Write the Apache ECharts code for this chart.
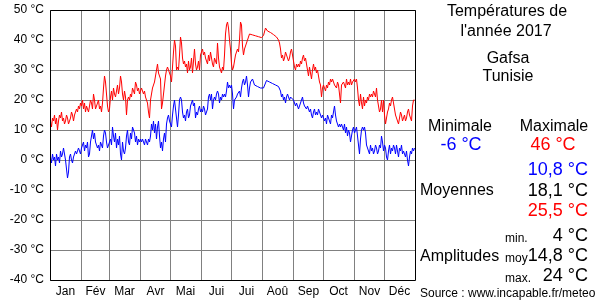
<!DOCTYPE html>
<html>
<head>
<meta charset="utf-8">
<script src="https://cdn.jsdelivr.net/npm/echarts@6/dist/echarts.min.js"></script>
<style>html,body{margin:0;padding:0;background:#fff}#c{width:600px;height:300px}</style>
</head>
<body>
<div id="c"></div>
<script>
const months = ['Jan','Fév','Mar','Avr','Mai','Jui','Jui','Aoû','Sep','Oct','Nov','Déc'];
const monthDays = [31,28,31,30,31,30,31,31,30,31,30,31];
const yTicks = [-40,-30,-20,-10,0,10,20,30,40,50];

const tmax = [
// Jan
13,11,14,13,15,12,14,10,13,15,14,16,13,14,12,13,15,14,12,13,14,16,15,13,15,16,17,16,18,17,19,
// Feb
18,20,17,19,16,18,17,16,18,20,19,17,22,20,17,18,19,20,17,18,16,19,24,28,26,22,18,16,
// Mar
17,21,23,20,24,22,21,23,25,22,24,28,26,22,20,23,21,15,20,21,20,22,21,24,23,22,26,25,23,24,22,
// Apr
23,24,23,22,23,21,20,19,16,14,20,22,24,25,26,28,30,32,29,28,27,17,19,22,25,28,30,31,30,29,
// May
28,26,31,36,40,38,30,31,30,35,41,39,34,32,33,31,32,29,33,30,31,34,29,33,37,32,30,31,33,30,35,
// Jun
36,37,35,36,34,33,32,35,33,36,34,32,31,34,33,32,39,34,31,30,29,31,30,35,42,45,46,44,40,37,
// Jul
32,30,31,33,35,36,37,36,40,46,45,38,35,37,38,39,40,41,42,42,41.8,41.7,41.6,41.5,41.4,41.3,41.2,41.1,41,41,40.8,
// Aug
41,41.5,42,44,43.5,43,43,42.8,42.5,42.3,42,41.8,41.5,41.2,41,40.5,40,39,37,34,35,33,34,36,35,34,33,34,36,37,37,
// Sep
33,31,30,32,31,32,31,33,32,34,35,33,34,32,30,28,31,29,27,30,32,30,31,29,30,28,26,25,21,24,
// Oct
25,24,23,25,24,26,25,27,26,27,26,25,25,24,26,25,25,19,25,25,26,25,24,27,25,26,25,27,25,26,26,
// Nov
27,26,27,24,20,18,22,19,17,21,18,20,19,21,20,22,21,22,21,23,22,21,24,20,18,16,17,20,16,20,
// Dec
15,12,14,16,17,19,18,20,21,19,17,15,14,13,12,14,16,15,13,14,15,13,14,16,17,15,14,13,18,20,20
];

const tmin = [
// Jan
1,-1,2,0,1,-2,2,0,1,-1,3,1,2,4,2,0,-3,-6,-4,1,2,0,-1,1,2,3,2,3,4,3,2,
// Feb
4,5,6,3,5,4,6,1,2,6,8,10,7,9,6,5,4,5,3,6,5,4,8,10,9,6,4,5,
// Mar
6,7,5,11,8,6,9,4,7,5,8,2,0,6,3,2,4,8,10,6,5,9,7,11,10,9,6,8,5,7,6,
// Apr
7,6,7,6,5,7,6,5,7,6,8,12,10,13,9,12,7,11,13,8,4,6,3,7,9,6,12,14,15,13,
// May
12,11,15,18,20,17,14,11,15,20,21,20,16,14,15,13,16,17,14,15,18,19,20,18,19,14,16,15,17,18,16,
// Jun
17,16,18,17,15,16,17,21,22,20,22,17,20,21,20,22,23,22,19,21,20,22,21,22,21,23,26,24,25,24,
// Jul
25,22,17,20,20,21,22,22,23,21,24,26,27,25,26,28,25,21,24,26,26,27,26,25,25,25,24.5,24.5,24,24,24,
// Aug
24,24,24,24,26.5,26.3,26,26,25.8,25.6,25.5,25.3,25,25,24.8,24.6,24.5,24,23,21,22,20,21,19,21,22,21,20,21,21,20.5,
// Sep
20,19,18,19,18,17,18,19,20,21,19,18,18,17,18,17,16,17,15,14,16,17,15,16,15,17,16,15,14,15,
// Oct
15,13,14,12,15,14,13,12,15,14,16,18,15,13,12,11,12,11,12,11,10,12,9,11,8,10,9,6,8,10,11,
// Nov
9,10,11,8,5,2,7,10,11,10,11,9,5,4,3,2,5,3,4,2,3,5,4,2,3,5,4,8,6,3,
// Dec
5,4,1,0,3,5,2,4,3,5,4,2,5,3,1,4,3,5,2,3,2,1,3,0,-2,1,3,2,4,3,4
];

const stats = {
  title1: 'Températures de', title2: "l'année 2017", city: 'Gafsa', country: 'Tunisie',
  minLabel: 'Minimale', maxLabel: 'Maximale', minVal: '-6 °C', maxVal: '46 °C',
  meanMin: '10,8 °C', meanAvg: '18,1 °C', meanMax: '25,5 °C',
  ampMin: '4 °C', ampAvg: '14,8 °C', ampMax: '24 °C',
  source: 'Source : www.incapable.fr/meteo'
};

// build category axis info from months
const days = [];
for (let i = 0; i < tmax.length; i++) days.push(String(i + 1));
const monthStart = {}; const monthMid = {};
let acc = 0;
monthDays.forEach((d, m) => { monthStart[acc] = true; monthMid[acc + Math.floor(d / 2)] = months[m]; acc += d; });

const FONT = 'Liberation Sans, Arial, sans-serif';
function txt(x, y, text, size, color, align) {
  return { type: 'text', x: x, y: y + 2, z: 10,
    style: { text: text, fontSize: size, fontFamily: FONT, fill: color || '#000', textAlign: align || 'center', textVerticalAlign: 'middle' } };
}

const chart = echarts.init(document.getElementById('c'), null, { renderer: 'canvas' });
chart.setOption({
  animation: false,
  backgroundColor: '#fff',
  grid: { left: 50, top: 10, width: 365, height: 270, containLabel: false },
  xAxis: {
    type: 'category', data: days, boundaryGap: true,
    axisLine: { show: false }, axisTick: { show: false },
    splitLine: { show: true, interval: (i) => !!monthStart[i] && i > 0, lineStyle: { color: '#808080', width: 1 } },
    axisLabel: { interval: (i) => monthMid[i] !== undefined, formatter: (v, i) => monthMid[i] || '',
      fontSize: 12, fontFamily: FONT, color: '#000', margin: 6 }
  },
  yAxis: {
    type: 'value', min: yTicks[0], max: yTicks[yTicks.length - 1], interval: 10,
    axisLine: { show: false }, axisTick: { show: false },
    splitLine: { show: true, lineStyle: { color: '#808080', width: 1 } },
    axisLabel: { formatter: '{value} °C', fontSize: 12, fontFamily: FONT, color: '#000', margin: 6, padding: [3, 0, 0, 0] }
  },
  series: [
    { type: 'line', data: tmax, showSymbol: false, symbol: 'none', lineStyle: { color: '#ff0000', width: 1 }, itemStyle: { color: '#ff0000' }, z: 3 },
    { type: 'line', data: tmin, showSymbol: false, symbol: 'none', lineStyle: { color: '#0000ff', width: 1 }, itemStyle: { color: '#0000ff' }, z: 3 }
  ],
  graphic: [
    { type: 'rect', z: 20, shape: { x: 50.5, y: 10.5, width: 365, height: 270 }, style: { fill: 'none', stroke: '#000', lineWidth: 1 } },
    txt(507, 10, stats.title1, 16),
    txt(506, 30, stats.title2, 16),
    txt(508, 57, stats.city, 16),
    txt(508, 75, stats.country, 16),
    txt(460, 125, stats.minLabel, 16),
    txt(554, 125, stats.maxLabel, 16),
    txt(461, 143, stats.minVal, 18, '#0000ff'),
    txt(553, 143, stats.maxVal, 18, '#ff0000'),
    txt(588, 168, stats.meanMin, 18, '#0000ff', 'right'),
    txt(420, 189, 'Moyennes', 16, '#000', 'left'),
    txt(588, 189, stats.meanAvg, 18, '#000', 'right'),
    txt(588, 209, stats.meanMax, 18, '#ff0000', 'right'),
    txt(505, 237, 'min.', 12, '#000', 'left'),
    txt(588, 234, stats.ampMin, 18, '#000', 'right'),
    txt(420, 255, 'Amplitudes', 16, '#000', 'left'),
    txt(505, 257, 'moy', 12, '#000', 'left'),
    txt(588, 254, stats.ampAvg, 18, '#000', 'right'),
    txt(505, 277, 'max.', 12, '#000', 'left'),
    txt(588, 274, stats.ampMax, 18, '#000', 'right'),
    txt(420, 292, stats.source, 12, '#000', 'left')
  ]
});
</script>
</body>
</html>
